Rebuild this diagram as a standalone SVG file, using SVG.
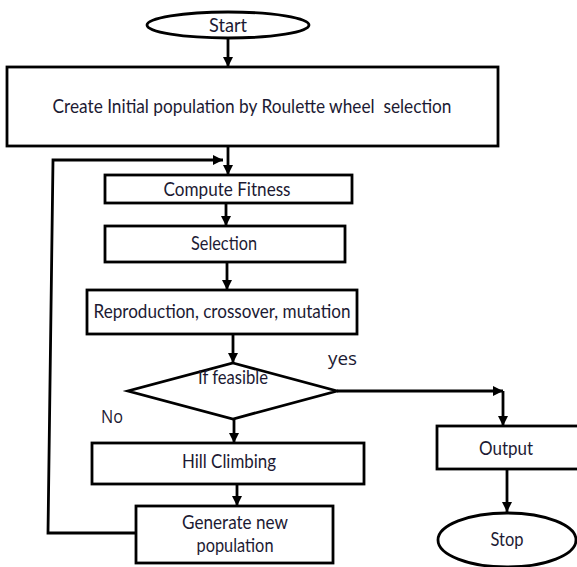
<svg xmlns="http://www.w3.org/2000/svg" width="577" height="567" viewBox="0 0 577 567">
<defs>
<style>
.box{fill:#fff;stroke:#000;stroke-width:2.8}
.t{font-family:Lato,"Open Sans","Liberation Sans",sans-serif;font-size:20px;fill:#1c1a33;text-anchor:middle}
.lbl{font-family:"Open Sans",Lato,"Liberation Sans",sans-serif;font-size:19px;fill:#1c1a33}
.c{fill:none;stroke:#000;stroke-width:2.8}
</style>
<marker id="ah" markerUnits="userSpaceOnUse" markerWidth="12" markerHeight="12" refX="10" refY="5" orient="auto">
<path d="M0,0 L10,5 L0,10 Z" fill="#000"/>
</marker>
</defs>
<rect width="577" height="567" fill="#fff"/>
<g id="connectors">
<line class="c" x1="228" y1="38" x2="228" y2="67" marker-end="url(#ah)"/>
<line class="c" x1="228" y1="146" x2="228" y2="175" marker-end="url(#ah)"/>
<polyline class="c" points="136,533 48,533 53,160 223,160" marker-end="url(#ah)"/>
<line class="c" x1="226" y1="203" x2="226" y2="226" marker-end="url(#ah)"/>
<line class="c" x1="227" y1="262" x2="227" y2="290" marker-end="url(#ah)"/>
<line class="c" x1="233" y1="334" x2="233" y2="363" marker-end="url(#ah)"/>
<polyline class="c" points="337,391 503,391" marker-end="url(#ah)"/>
<line class="c" x1="503" y1="391" x2="503" y2="426" marker-end="url(#ah)"/>
<line class="c" x1="507" y1="469" x2="507" y2="512" marker-end="url(#ah)"/>
<line class="c" x1="234" y1="419" x2="234" y2="443" marker-end="url(#ah)"/>
<line class="c" x1="237" y1="484" x2="237" y2="506" marker-end="url(#ah)"/>
</g>
<g id="start">
<ellipse class="box" cx="228" cy="25" rx="81" ry="13"/>
<text class="t" x="228" y="32" textLength="38" lengthAdjust="spacingAndGlyphs">Start</text>
</g>
<g id="create">
<rect class="box" x="7" y="67" width="491" height="79"/>
<text class="t" x="252" y="113" textLength="399" lengthAdjust="spacingAndGlyphs" xml:space="preserve" style="white-space:pre">Create Initial population by Roulette wheel  selection</text>
</g>
<g id="fitness">
<rect class="box" x="105" y="175" width="247" height="28"/>
<text class="t" x="227" y="196" textLength="127" lengthAdjust="spacingAndGlyphs">Compute Fitness</text>
</g>
<g id="selection">
<rect class="box" x="105" y="226" width="240" height="36"/>
<text class="t" x="224" y="250" textLength="66" lengthAdjust="spacingAndGlyphs">Selection</text>
</g>
<g id="reproduction">
<rect class="box" x="87" y="290" width="270" height="44"/>
<text class="t" x="222" y="318" textLength="257" lengthAdjust="spacingAndGlyphs">Reproduction, crossover, mutation</text>
</g>
<g id="feasible">
<polygon class="box" points="233,363 337,391 233,419 128,391"/>
<text class="t" x="233" y="384" textLength="70" lengthAdjust="spacingAndGlyphs">If feasible</text>
</g>
<text class="lbl" x="328" y="365" textLength="29" lengthAdjust="spacingAndGlyphs">yes</text>
<text class="lbl" x="101" y="423" textLength="22" lengthAdjust="spacingAndGlyphs">No</text>
<g id="output">
<rect class="box" x="437" y="426" width="146" height="43"/>
<text class="t" x="506" y="455" textLength="54" lengthAdjust="spacingAndGlyphs">Output</text>
</g>
<g id="stop">
<ellipse class="box" cx="507" cy="540" rx="69" ry="27"/>
<text class="t" x="507" y="546" textLength="33" lengthAdjust="spacingAndGlyphs">Stop</text>
</g>
<g id="hill">
<rect class="box" x="92" y="443" width="272" height="41"/>
<text class="t" x="229" y="468" textLength="94" lengthAdjust="spacingAndGlyphs">Hill Climbing</text>
</g>
<g id="generate">
<rect class="box" x="136" y="506" width="197" height="57"/>
<text class="t" x="235" y="529" textLength="106" lengthAdjust="spacingAndGlyphs">Generate new</text>
<text class="t" x="235" y="552" textLength="77" lengthAdjust="spacingAndGlyphs">population</text>
</g>
</svg>
